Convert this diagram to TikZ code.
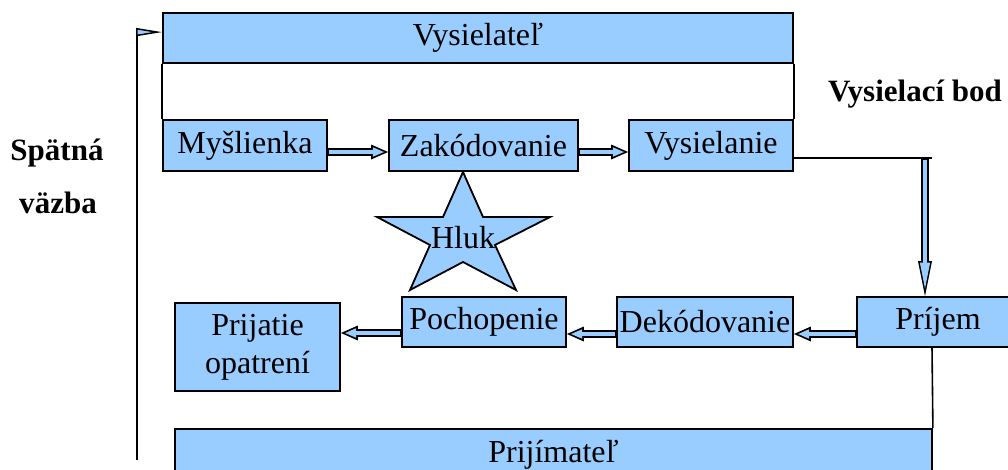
\documentclass[tikz,border=0pt]{standalone}
\usepackage{fontspec}
\setmainfont{Liberation Serif}
\newfontfamily\tnr{Liberation Serif}
\usetikzlibrary{arrows.meta,calc}
\definecolor{fillc}{HTML}{99CCFF}
\begin{document}
\begin{tikzpicture}[x=1pt,y=-1pt,
  box/.style={draw=black, line width=1.8pt, fill=fillc, inner sep=0pt, font=\tnr\fontsize{32}{38}\selectfont, align=center},
  starstyle/.style={draw=black, line width=1.8pt, fill=fillc, line join=miter},
  lbl/.style={font=\tnr\fontsize{31}{36}\selectfont\bfseries, inner sep=0pt},
  thinline/.style={draw=black, line width=1.6pt},
  baout/.style={draw=black, line width=7.5pt, -{Triangle[length=17pt,width=15pt,line width=0pt]}},
  bain/.style={draw=fillc, line width=3.8pt, shorten <=1pt, shorten >=4.2pt, -{Triangle[length=11pt,width=9.5pt,line width=0pt]}},
  vaout/.style={draw=black, line width=8pt, -{Triangle[length=35pt,width=14pt,line width=0pt]}},
  vain/.style={draw=fillc, line width=4.8pt, shorten <=1.5pt, shorten >=7.65pt, -{Triangle[length=25.85pt,width=10.3pt,line width=0pt]}}
]
\useasboundingbox (0,0) rectangle (1008,469);
\clip (0,0) rectangle (1008,469);

% boxes
\node[box, minimum width=630pt, minimum height=50pt] (vys) at (478,38) {Vysielateľ};
\node[box, minimum width=164pt, minimum height=51pt] (mys) at (245,145.5) {Myšlienka};
\node[box, minimum width=189pt, minimum height=51pt] (zak) at (483.5,145.5) {Zakódovanie};
\node[box, minimum width=164pt, minimum height=51pt] (vysl) at (711,145.5) {Vysielanie};
\node[box, minimum width=162pt, minimum height=50pt] (prij) at (938,322) {Príjem};
\node[box, minimum width=176pt, minimum height=50pt] (dek) at (705,322) {Dekódovanie};
\node[box, minimum width=164pt, minimum height=50pt] (poch) at (484,322) {Pochopenie};
\node[box, minimum width=165pt, minimum height=88pt] (opat) at (257.5,347) {Prijatie\\opatrení};
\node[box, minimum width=757pt, minimum height=52pt, anchor=north] (prijm) at (553.5,428) {\raisebox{5pt}{Prijímateľ}};

% star
\draw[starstyle] (463,172) -- (483,217) -- (550,217) -- (495,245) -- (516,290) -- (463,262) -- (410,290) -- (430,245) -- (377,217) -- (443,217) -- cycle;
\node[font=\tnr\fontsize{32}{38}\selectfont, inner sep=0pt] (hluk) at (463,238) {Hluk};

% labels
\node[lbl, anchor=base] (vb) at (915,101) {Vysielací bod};
\node[lbl, anchor=base] (sp) at (57,160) {Spätná};
\node[lbl, anchor=base] (vz) at (58,213) {väzba};

% frame lines
\draw[thinline] (vys.south west) -- (mys.north west);
\draw[thinline] (vys.south east) -- (vysl.north east);
\coordinate (corner) at (932,158);
\draw[thinline] ($(vysl.east)+(0,12.5)$) -- (corner);
\draw[thinline] (prij.south -| corner) -- (prijm.north east);

% feedback
\coordinate (fb) at (137,460);
\draw[thinline, line width=2pt, -{Triangle[open, fill=fillc, length=26pt, width=8pt, line width=1.5pt]}] (fb) |- ($(vys.north west)+(0,20)$);

% block arrows
\coordinate (a1) at ($(mys.east)+(0,6.5)$);
\draw[baout] (a1) -- (zak.west |- a1);
\draw[bain] (a1) -- (zak.west |- a1);
\coordinate (a2) at ($(zak.east)+(0,6.5)$);
\draw[baout] (a2) -- (vysl.west |- a2);
\draw[bain] (a2) -- (vysl.west |- a2);
\coordinate (a3) at ($(prij.west)+(0,12)$);
\draw[baout] (a3) -- (dek.east |- a3);
\draw[bain] (a3) -- (dek.east |- a3);
\coordinate (a4) at ($(dek.west)+(0,12)$);
\draw[baout] (a4) -- (poch.east |- a4);
\draw[bain] (a4) -- (poch.east |- a4);
\coordinate (a5) at ($(poch.west)+(0,11)$);
\draw[baout] (a5) -- (opat.east |- a5);
\draw[bain] (a5) -- (opat.east |- a5);

\coordinate (vt) at ($(corner)+(-7,0)$);
\draw[vaout] (vt) -- (prij.north -| vt);
\draw[vain] (vt) -- (prij.north -| vt);
\end{tikzpicture}
\end{document}
